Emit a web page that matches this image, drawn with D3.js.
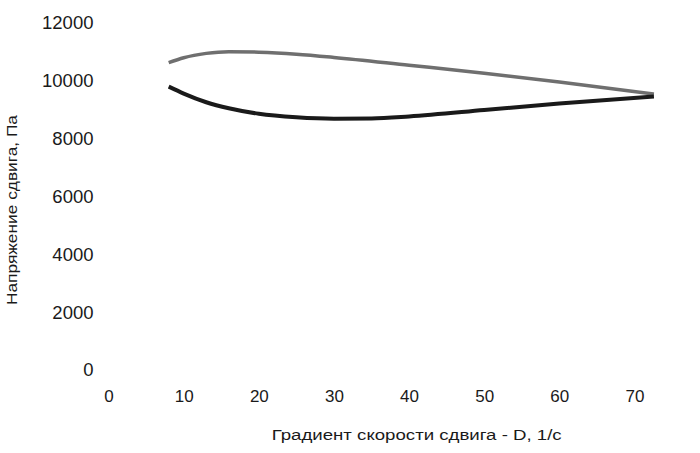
<!DOCTYPE html>
<html><head><meta charset="utf-8">
<script src="https://cdn.jsdelivr.net/npm/d3@7"></script>
<style>body{margin:0;background:#fff;} text{font-family:"Liberation Sans",Arial,sans-serif;fill:#1a1a1a;}</style>
</head><body>
<svg id="c" width="700" height="453"></svg>
<script>
const xTicks = [0,10,20,30,40,50,60,70];
const yTicks = [0,2000,4000,6000,8000,10000,12000];
const grayX = [8,10,13,16,20,25,30,40,50,60,72.6];
const grayY = [10630,10800,10950,11010,10990,10920,10810,10540,10265,9960,9540];
const blackX = [8,10,13,16,20,25,30,35,40,50,60,72.6];
const blackY = [9800,9560,9260,9050,8860,8740,8690,8700,8770,8990,9220,9455];
const xTitle = "Градиент скорости сдвига - D, 1/с";
const yTitle = "Напряжение сдвига, Па";

const svg = d3.select("#c");
const x = d3.scaleLinear().domain([0,70]).range([108.6,634.4]);
const y = d3.scaleLinear().domain([0,12000]).range([370,23]);
const ff = '"Liberation Sans",Arial,sans-serif';

const xa = svg.append("g").attr("transform","translate(0,390)")
  .call(d3.axisBottom(x).tickValues(xTicks).tickSize(0).tickPadding(0).tickFormat(d3.format("d")));
xa.select(".domain").remove();
xa.selectAll("text").attr("font-size",17).attr("dy","0.71em").style("font-family",ff).attr("fill","#1a1a1a");

const ya = svg.append("g").attr("transform","translate(93.5,0)")
  .call(d3.axisLeft(y).tickValues(yTicks).tickSize(0).tickPadding(0).tickFormat(d3.format("d")));
ya.select(".domain").remove();
ya.selectAll("text").attr("font-size",18.5).style("font-family",ff).attr("fill","#1a1a1a");

const line = d3.line().x(d=>x(d[0])).y(d=>y(d[1])).curve(d3.curveMonotoneX);
svg.append("path").datum(grayX.map((v,i)=>[v,grayY[i]])).attr("d",line)
  .attr("fill","none").attr("stroke","#6f6f6f").attr("stroke-width",3.5);
svg.append("path").datum(blackX.map((v,i)=>[v,blackY[i]])).attr("d",line)
  .attr("fill","none").attr("stroke","#1a1a1a").attr("stroke-width",4);

svg.append("text").attr("x",416.7).attr("y",439.5).attr("text-anchor","middle").attr("font-size",15.5)
  .attr("textLength",290).attr("lengthAdjust","spacingAndGlyphs").text(xTitle);
svg.append("text").attr("transform","translate(17,210) rotate(-90)").attr("text-anchor","middle").attr("font-size",14)
  .attr("textLength",190).attr("lengthAdjust","spacingAndGlyphs").text(yTitle);
</script>
</body></html>
